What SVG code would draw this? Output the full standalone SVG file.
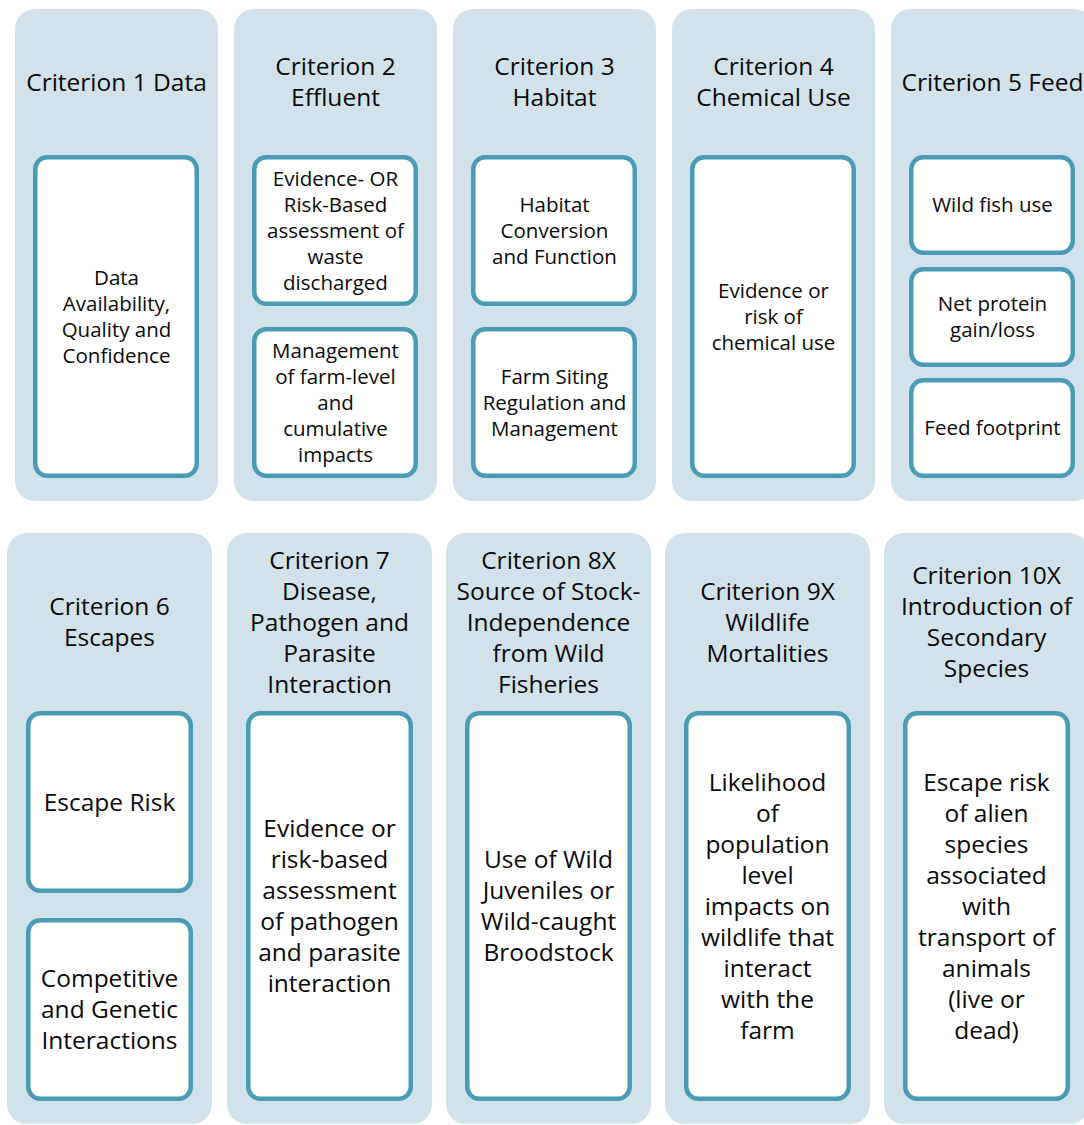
<svg xmlns="http://www.w3.org/2000/svg" width="1084" height="1125" viewBox="0 0 1084 1125">
<style>
.col{fill:#d1e2ea;stroke:none}
.box{fill:#ffffff;stroke:#4a9bb5;stroke-width:4.5}
text{font-family:"Open Sans","Liberation Sans",sans-serif;fill:#0a0a0a;text-anchor:middle}
.t{font-size:24.5px}
.s{font-size:20.5px}
</style>
<rect width="1084" height="1125" fill="#ffffff"/>
<g id="connectors"></g>

<g id="c1">
<rect class="col" x="15" y="9" width="203" height="492" rx="20"/>
<text class="t" x="116.5" y="90.75">Criterion 1 Data</text>
<rect class="box" x="35.25" y="157.25" width="161.5" height="318.5" rx="12"/>
<text class="s"><tspan x="116.5" y="284.8">Data</tspan><tspan x="116.5" y="310.8">Availability,</tspan><tspan x="116.5" y="336.8">Quality and</tspan><tspan x="116.5" y="362.8">Confidence</tspan></text>
</g>

<g id="c2">
<rect class="col" x="234" y="9" width="203" height="492" rx="20"/>
<text class="t"><tspan x="335.5" y="75.25">Criterion 2</tspan><tspan x="335.5" y="106.25">Effluent</tspan></text>
<rect class="box" x="254.25" y="157.25" width="161.5" height="146.5" rx="12"/>
<text class="s"><tspan x="335.5" y="185.8">Evidence- OR</tspan><tspan x="335.5" y="211.8">Risk-Based</tspan><tspan x="335.5" y="237.8">assessment of</tspan><tspan x="335.5" y="263.8">waste</tspan><tspan x="335.5" y="289.8">discharged</tspan></text>
<rect class="box" x="254.25" y="329.25" width="161.5" height="146.5" rx="12"/>
<text class="s"><tspan x="335.5" y="357.8">Management</tspan><tspan x="335.5" y="383.8">of farm-level</tspan><tspan x="335.5" y="409.8">and</tspan><tspan x="335.5" y="435.8">cumulative</tspan><tspan x="335.5" y="461.8">impacts</tspan></text>
</g>

<g id="c3">
<rect class="col" x="453" y="9" width="203" height="492" rx="20"/>
<text class="t"><tspan x="554.5" y="75.25">Criterion 3</tspan><tspan x="554.5" y="106.25">Habitat</tspan></text>
<rect class="box" x="473.25" y="157.25" width="161.5" height="146.5" rx="12"/>
<text class="s"><tspan x="554.5" y="211.8">Habitat</tspan><tspan x="554.5" y="237.8">Conversion</tspan><tspan x="554.5" y="263.8">and Function</tspan></text>
<rect class="box" x="473.25" y="329.25" width="161.5" height="146.5" rx="12"/>
<text class="s"><tspan x="554.5" y="383.8">Farm Siting</tspan><tspan x="554.5" y="409.8">Regulation and</tspan><tspan x="554.5" y="435.8">Management</tspan></text>
</g>

<g id="c4">
<rect class="col" x="672" y="9" width="203" height="492" rx="20"/>
<text class="t"><tspan x="773.5" y="75.25">Criterion 4</tspan><tspan x="773.5" y="106.25">Chemical Use</tspan></text>
<rect class="box" x="692.25" y="157.25" width="161.5" height="318.5" rx="12"/>
<text class="s"><tspan x="773.5" y="297.8">Evidence or</tspan><tspan x="773.5" y="323.8">risk of</tspan><tspan x="773.5" y="349.8">chemical use</tspan></text>
</g>

<g id="c5">
<rect class="col" x="891" y="9" width="203" height="492" rx="20"/>
<text class="t" x="992.5" y="90.75">Criterion 5 Feed</text>
<rect class="box" x="911.25" y="157.25" width="161.5" height="95.5" rx="12"/>
<text class="s" x="992.5" y="212.3">Wild fish use</text>
<rect class="box" x="911.25" y="269.25" width="161.5" height="95.5" rx="12"/>
<text class="s"><tspan x="992.5" y="311.3">Net protein</tspan><tspan x="992.5" y="337.3">gain/loss</tspan></text>
<rect class="box" x="911.25" y="380.25" width="161.5" height="95.5" rx="12"/>
<text class="s" x="992.5" y="435.3">Feed footprint</text>
</g>

<g id="c6">
<rect class="col" x="7" y="533" width="205" height="591" rx="20"/>
<text class="t"><tspan x="109.5" y="615.25">Criterion 6</tspan><tspan x="109.5" y="646.25">Escapes</tspan></text>
<rect class="box" x="28.25" y="713.25" width="162.5" height="177.5" rx="12"/>
<text class="t" x="109.5" y="810.75">Escape Risk</text>
<rect class="box" x="28.25" y="920.25" width="162.5" height="178.5" rx="12"/>
<text class="t"><tspan x="109.5" y="987.25">Competitive</tspan><tspan x="109.5" y="1018.25">and Genetic</tspan><tspan x="109.5" y="1049.25">Interactions</tspan></text>
</g>

<g id="c7">
<rect class="col" x="227" y="533" width="205" height="591" rx="20"/>
<text class="t"><tspan x="329.5" y="568.75">Criterion 7</tspan><tspan x="329.5" y="599.75">Disease,</tspan><tspan x="329.5" y="630.75">Pathogen and</tspan><tspan x="329.5" y="661.75">Parasite</tspan><tspan x="329.5" y="692.75">Interaction</tspan></text>
<rect class="box" x="248.25" y="713.25" width="162.5" height="385.5" rx="12"/>
<text class="t"><tspan x="329.5" y="837.25">Evidence or</tspan><tspan x="329.5" y="868.25">risk-based</tspan><tspan x="329.5" y="899.25">assessment</tspan><tspan x="329.5" y="930.25">of pathogen</tspan><tspan x="329.5" y="961.25">and parasite</tspan><tspan x="329.5" y="992.25">interaction</tspan></text>
</g>

<g id="c8">
<rect class="col" x="446" y="533" width="205" height="591" rx="20"/>
<text class="t"><tspan x="548.5" y="568.75">Criterion 8X</tspan><tspan x="548.5" y="599.75">Source of Stock-</tspan><tspan x="548.5" y="630.75">Independence</tspan><tspan x="548.5" y="661.75">from Wild</tspan><tspan x="548.5" y="692.75">Fisheries</tspan></text>
<rect class="box" x="467.25" y="713.25" width="162.5" height="385.5" rx="12"/>
<text class="t"><tspan x="548.5" y="868.25">Use of Wild</tspan><tspan x="548.5" y="899.25">Juveniles or</tspan><tspan x="548.5" y="930.25">Wild-caught</tspan><tspan x="548.5" y="961.25">Broodstock</tspan></text>
</g>

<g id="c9">
<rect class="col" x="665" y="533" width="205" height="591" rx="20"/>
<text class="t"><tspan x="767.5" y="599.75">Criterion 9X</tspan><tspan x="767.5" y="630.75">Wildlife</tspan><tspan x="767.5" y="661.75">Mortalities</tspan></text>
<rect class="box" x="686.25" y="713.25" width="162.5" height="385.5" rx="12"/>
<text class="t"><tspan x="767.5" y="790.75">Likelihood</tspan><tspan x="767.5" y="821.75">of</tspan><tspan x="767.5" y="852.75">population</tspan><tspan x="767.5" y="883.75">level</tspan><tspan x="767.5" y="914.75">impacts on</tspan><tspan x="767.5" y="945.75">wildlife that</tspan><tspan x="767.5" y="976.75">interact</tspan><tspan x="767.5" y="1007.75">with the</tspan><tspan x="767.5" y="1038.75">farm</tspan></text>
</g>

<g id="c10">
<rect class="col" x="884" y="533" width="205" height="591" rx="20"/>
<text class="t"><tspan x="986.5" y="584.25">Criterion 10X</tspan><tspan x="986.5" y="615.25">Introduction of</tspan><tspan x="986.5" y="646.25">Secondary</tspan><tspan x="986.5" y="677.25">Species</tspan></text>
<rect class="box" x="905.25" y="713.25" width="162.5" height="385.5" rx="12"/>
<text class="t"><tspan x="986.5" y="790.75">Escape risk</tspan><tspan x="986.5" y="821.75">of alien</tspan><tspan x="986.5" y="852.75">species</tspan><tspan x="986.5" y="883.75">associated</tspan><tspan x="986.5" y="914.75">with</tspan><tspan x="986.5" y="945.75">transport of</tspan><tspan x="986.5" y="976.75">animals</tspan><tspan x="986.5" y="1007.75">(live or</tspan><tspan x="986.5" y="1038.75">dead)</tspan></text>
</g>
</svg>
